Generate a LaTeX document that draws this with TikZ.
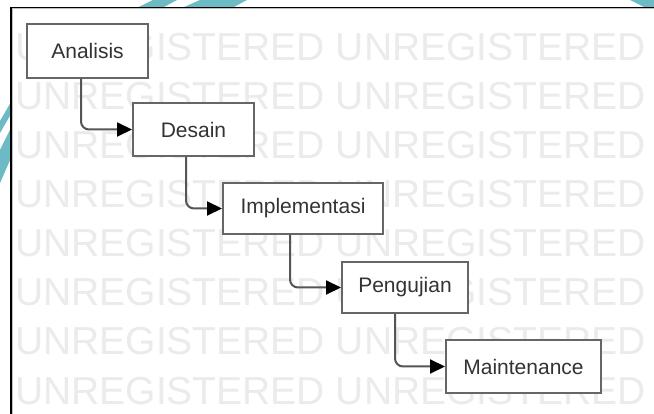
\documentclass[tikz,border=0pt]{standalone}
\usepackage{fontspec}
\setmainfont{Liberation Sans}
\usetikzlibrary{arrows.meta}
\definecolor{wm}{HTML}{EBEBEB}
\definecolor{tealart}{HTML}{6CBAC4}
\definecolor{boxline}{HTML}{666666}
\definecolor{conn}{HTML}{555555}
\definecolor{txt}{HTML}{333333}
\begin{document}
\begin{tikzpicture}[x=1pt,y=-1pt,
  stepbox/.style={draw=boxline, line width=2pt, fill=white, inner sep=0pt, text=txt,
    font=\fontsize{21}{24}\selectfont, anchor=center},
  flow/.style={draw=conn, line width=2pt, rounded corners=8pt,
    -{Triangle[length=15pt,width=14pt,color=black]}},
  wmark/.style={anchor=base west, text=wm, inner sep=0pt, font=\fontsize{39}{39}\selectfont}
]
\useasboundingbox (0,0) rectangle (654,414);
\fill[white] (0,0) rectangle (654,414);
% teal artefacts outside the frame
\fill[tealart] (0,121) -- (11,102) -- (11,114) -- (0,133) -- cycle;
\fill[tealart] (0,150) -- (11,128) -- (11,158) -- (0,183) -- cycle;
\fill[tealart] (138,7.5) -- (153,0) -- (177,0) -- (163,7.5) -- cycle;
\fill[tealart] (183,7.5) -- (200,0) -- (247,0) -- (233,7.5) -- cycle;
\fill[tealart] (630,0) -- (654,0) -- (654,7.5) -- (645,7.5) -- cycle;
% watermark
\begin{scope}
  \clip (12,9) rectangle (654,414);
  \foreach \k in {0,...,7}
    \node[wmark] (wm\k) at (15,{61+49*\k}) {UNREGISTERED UNREGISTERED};
\end{scope}
% frame
\draw[black!25, line width=1pt] (12.5,414) -- (12.5,9) -- (654,9);
\draw[black, line width=1.5pt] (11,414) -- (11,7.5) -- (654,7.5);
% steps
\node[stepbox, minimum width=121pt, minimum height=54pt] (a) at (87.5,51) {Analisis};
\node[stepbox, minimum width=121pt, minimum height=53pt] (d) at (193.5,129.5) {Desain};
\node[stepbox, minimum width=160pt, minimum height=51pt] (i) at (303,208.5) {Implementasi};
\node[stepbox, minimum width=126pt, minimum height=51pt] (p) at (405,287.5) {Pengujian};
\node[stepbox, minimum width=155pt, minimum height=53pt] (m) at (523.5,366.5) {Maintenance};
% connectors
\draw[flow] ([xshift=-6.5pt]a.south) |- (d.west);
\draw[flow] ([xshift=-7.5pt]d.south) |- (i.west);
\draw[flow] ([xshift=-13pt]i.south) |- (p.west);
\draw[flow] ([xshift=-10pt]p.south) |- (m.west);
\end{tikzpicture}
\end{document}
